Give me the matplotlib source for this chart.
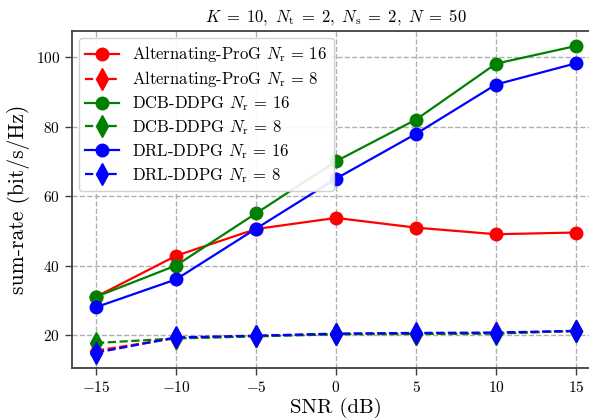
import numpy as np
import matplotlib
matplotlib.use("Agg")
import matplotlib.pyplot as plt

plt.rcParams["font.family"] = "serif"
plt.rcParams["font.serif"] = ["cmr10", "DejaVu Serif"]
plt.rcParams["mathtext.fontset"] = "cm"
plt.rcParams["axes.formatter.use_mathtext"] = True

snr = [-15, -10, -5, 0, 5, 10, 15]
alt_16 = [31.0, 42.8, 50.5, 53.7, 50.9, 49.0, 49.5]
alt_8 = [15.5, 19.1, 19.7, 20.3, 20.4, 20.6, 21.1]
dcb_16 = [31.0, 40.0, 55.0, 70.0, 82.0, 98.1, 103.2]
dcb_8 = [17.7, 19.0, 19.6, 20.2, 20.3, 20.4, 21.2]
drl_16 = [28.0, 36.0, 50.6, 65.0, 77.9, 92.1, 98.2]
drl_8 = [14.9, 19.3, 19.8, 20.4, 20.6, 20.7, 21.2]

series = [
    (alt_16, "r", "-", "o", r"Alternating-ProG $N_{\rm r}\,=\,16$"),
    (alt_8, "r", "--", "d", r"Alternating-ProG $N_{\rm r}\,=\,8$"),
    (dcb_16, "g", "-", "o", r"DCB-DDPG $N_{\rm r}\,=\,16$"),
    (dcb_8, "g", "--", "d", r"DCB-DDPG $N_{\rm r}\,=\,8$"),
    (drl_16, "b", "-", "o", r"DRL-DDPG $N_{\rm r}\,=\,16$"),
    (drl_8, "b", "--", "d", r"DRL-DDPG $N_{\rm r}\,=\,8$"),
]

fig = plt.figure(figsize=(5.89, 4.20), dpi=100)
ax = fig.add_axes([72 / 589, 52 / 420, 528 / 589, 337 / 420])

for vals, c, ls, mk, lab in series:
    ms = 9 if mk == "o" else 11
    ax.plot(snr, vals, color=c, linestyle=ls, marker=mk, markersize=ms,
            linewidth=1.6, label=lab)

ax.set_xticks(snr)
ax.set_yticks([20, 40, 60, 80, 100])
ax.set_xlim(-16.5, 16.5)
ax.set_ylim(10.5, 107.5)
ax.grid(True, linestyle="--", color="#b0b0b0", linewidth=1.0)
for s in ax.spines.values():
    s.set_color("#404040")
    s.set_linewidth(1.3)
ax.tick_params(direction="out", length=5, width=1.0, color="#404040", labelsize=11)

ax.set_xlabel("SNR (dB)", fontsize=15, labelpad=2)
ax.set_ylabel("sum-rate (bit/s/Hz)", fontsize=15.5)
ax.set_title(r"$K\;=\;10,\ N_{\rm t}\;=\;2,\ N_{\rm s}\;=\;2,\ N\;=\;50$",
             fontsize=12, pad=7)
ax.legend(loc="upper left", fontsize=12, framealpha=0.9, edgecolor="#cccccc",
          handlelength=2.0, borderaxespad=0.4, labelspacing=0.3)

fig.savefig("out.png", dpi=100)
